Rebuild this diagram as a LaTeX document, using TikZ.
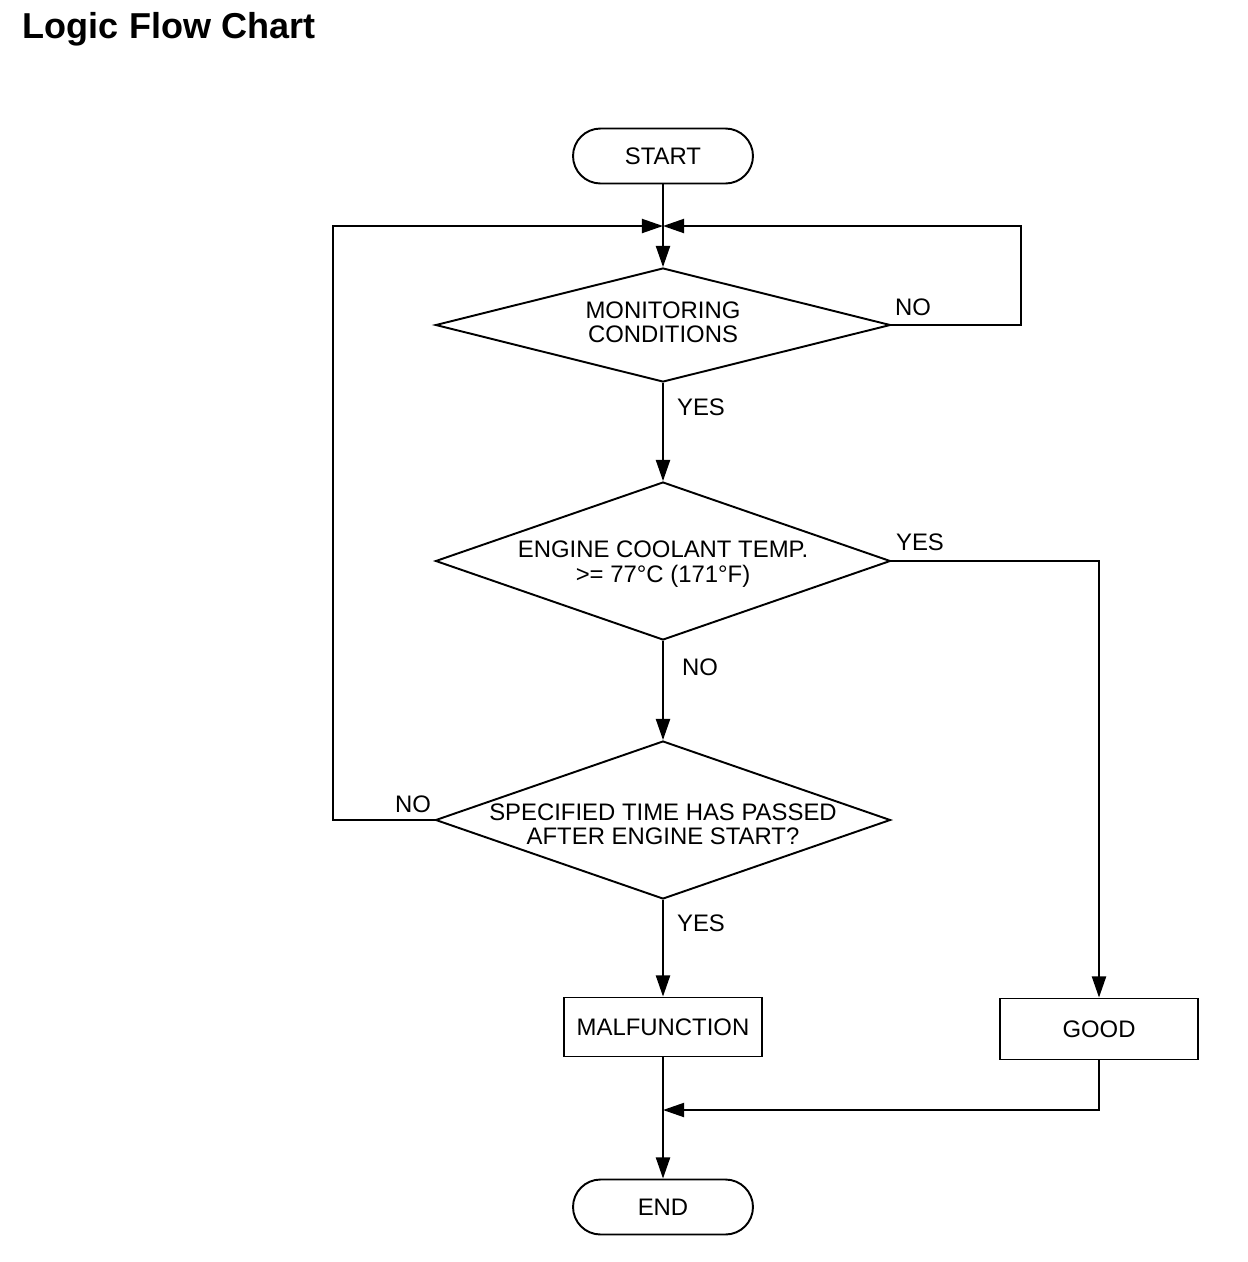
\documentclass[tikz,border=0pt]{standalone}
\usepackage{fontspec}
\setmainfont{Liberation Sans}
\usetikzlibrary{shapes.geometric, arrows.meta, positioning}

\begin{document}
\begin{tikzpicture}[x=0.02cm,y=-0.02cm, line width=1.1pt,
    font=\fontsize{13.6}{13.9}\selectfont,
    terminal/.style={draw, rectangle, rounded corners=0.55cm, minimum width=3.6cm, minimum height=1.1cm, inner sep=0pt},
    decision/.style={draw, diamond, aspect=4, minimum width=9.1cm, inner sep=0pt},
    process/.style={draw, rectangle, minimum width=3.96cm, minimum height=1.2cm, inner sep=0pt},
    txt/.style={align=center, inner sep=0pt},
    arr/.style={-{Triangle[length=12pt,width=8pt]}}]
    \useasboundingbox (0,0) rectangle (1248,1262);
    \node (title) [anchor=base west, inner sep=0pt, font=\fontsize{20.5}{24}\selectfont\bfseries] at (22,38) {Logic Flow Chart};
    % boxes
    \node[terminal] (start) at (663,156) {START};
    \coordinate (join) at (663,226);
    \node[decision, minimum height=2.28cm] (mon) at (663,325) {};
    \node[txt] (montxt) at (663,322) {MONITORING\\CONDITIONS};
    \node[decision, minimum height=3.16cm] (ect) at (663,561) {};
    \node[txt] (ecttxt) at (663,564) {ENGINE COOLANT TEMP.\\>= 77°C (171°F)};
    \node[decision, minimum height=3.16cm] (tim) at (663,820) {};
    \node[txt] (timtxt) at (663,824) {SPECIFIED TIME HAS PASSED\\AFTER ENGINE START?};
    \node[process, minimum height=1.18cm] (mal) at (663,1027) {MALFUNCTION};
    \node[process, minimum height=1.22cm] (good) at (1099,1029) {GOOD};
    \coordinate (merge) at (663,1110);
    \node[terminal] (end) at (663,1207) {END};
    % connectors
    \draw (start) -- (join);
    \draw[arr] (join) -- (mon.north);
    \draw[arr] (mon.east) -- ++(130,0) |- (join);
    \draw[arr] (tim.west) -- ++(-102,0) |- (join);
    \draw[arr] (mon) -- (ect);
    \draw[arr] (ect.east) -| (good.north);
    \draw[arr] (ect) -- (tim);
    \draw[arr] (tim) -- (mal);
    \draw[arr] (mal) -- (end);
    \draw[arr] (good.south) |- (merge);
    % labels
    \node (nomon) at (913,307) {NO};
    \node (yesmon) at (701,407) {YES};
    \node (yesect) at (920,542) {YES};
    \node (noect) at (700,667) {NO};
    \node (notim) at (413,804) {NO};
    \node (yestim) at (701,923) {YES};
\end{tikzpicture}
\end{document}
